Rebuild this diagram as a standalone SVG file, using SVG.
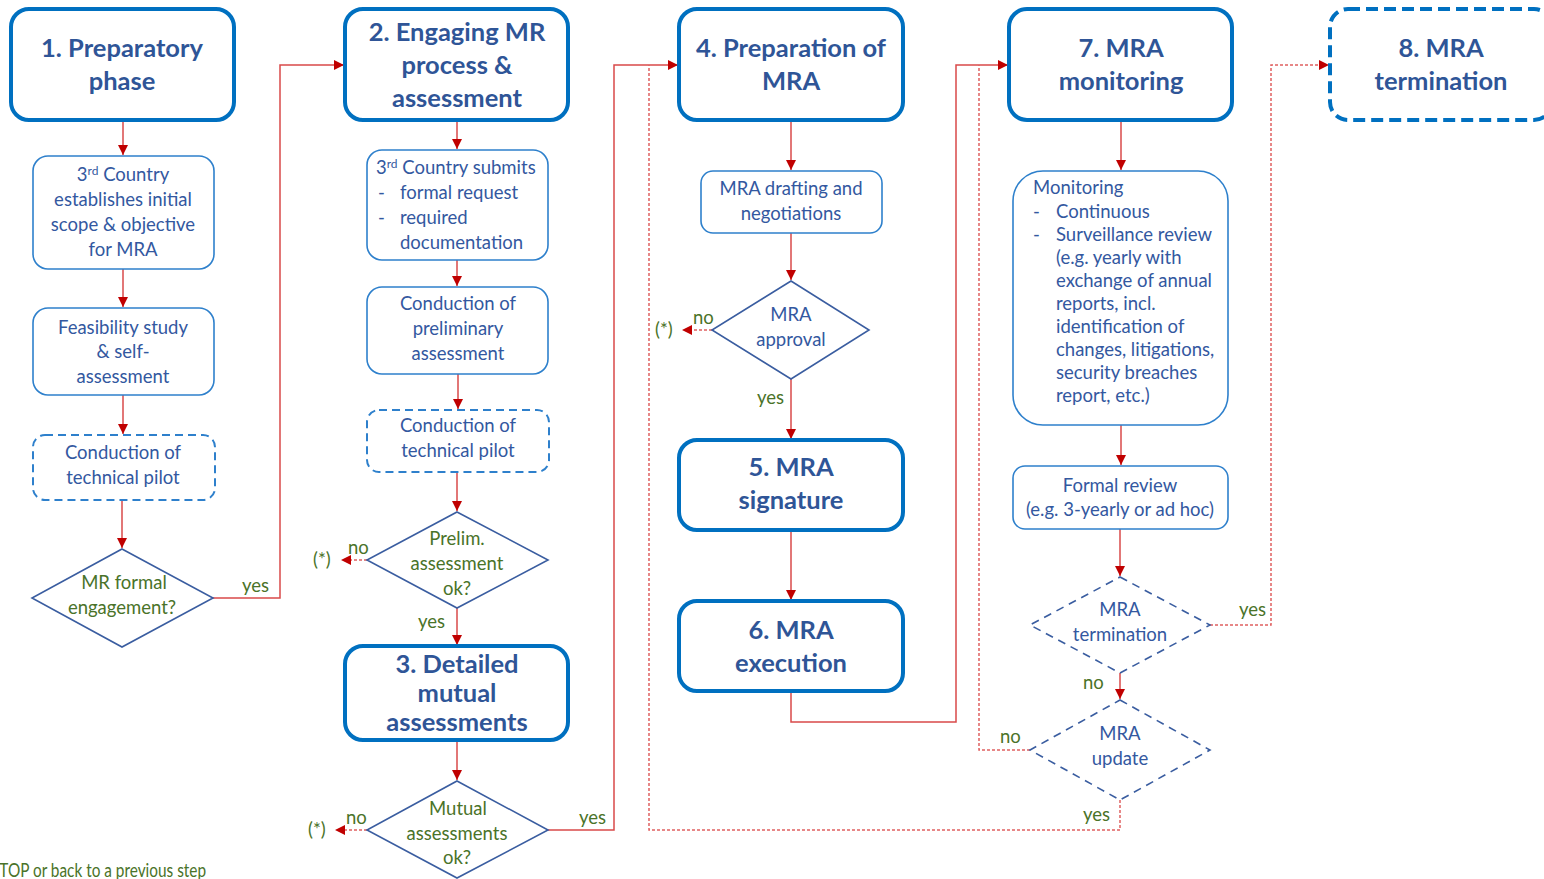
<svg xmlns="http://www.w3.org/2000/svg" width="1544" height="879" viewBox="0 0 1544 879">
<style>
.phase{fill:#fff;stroke:#0070C0;stroke-width:4}
.phase-d{fill:#fff;stroke:#0070C0;stroke-width:4;stroke-dasharray:12 6}
.box{fill:#fff;stroke:#2E80CC;stroke-width:1.6}
.box-d{fill:#fff;stroke:#2E80CC;stroke-width:2;stroke-dasharray:8 5}
.dia{fill:#fff;stroke:#3A5DA0;stroke-width:1.6}
.dia-d{fill:#fff;stroke:#3A5DA0;stroke-width:1.6;stroke-dasharray:8 6}
.t{font-family:Lato,"Liberation Sans",sans-serif;font-size:18.5px;fill:#3358A0}
.tb{font-family:Lato,"Liberation Sans",sans-serif;font-size:25.5px;font-weight:bold;fill:#2F5597}
.g{font-family:Lato,"Liberation Sans",sans-serif;font-size:18.5px;fill:#4A7329}
.c{text-anchor:middle}
.ln{fill:none;stroke:#D94A4A;stroke-width:1.5}
.dl{fill:none;stroke:#E06060;stroke-width:1.5;stroke-dasharray:3 2}
</style>
<defs>
<marker id="ah" viewBox="0 0 10 10" refX="10" refY="5" markerWidth="10" markerHeight="10" markerUnits="userSpaceOnUse" orient="auto">
<path d="M0,0 L10,5 L0,10 z" fill="#C00000"/>
</marker>
</defs>
<rect width="1544" height="879" fill="#fff"/>

<g id="connectors">
<path class="ln" d="M123,120 V155" marker-end="url(#ah)"/>
<path class="ln" d="M123,269 V307" marker-end="url(#ah)"/>
<path class="ln" d="M123,395 V434" marker-end="url(#ah)"/>
<path class="ln" d="M122,500 V548" marker-end="url(#ah)"/>
<path class="ln" d="M213,598 H280 V65 H344" marker-end="url(#ah)"/>
<path class="ln" d="M457,120 V149" marker-end="url(#ah)"/>
<path class="ln" d="M457,260 V286" marker-end="url(#ah)"/>
<path class="ln" d="M458,374 V409" marker-end="url(#ah)"/>
<path class="ln" d="M457,472 V511" marker-end="url(#ah)"/>
<path class="dl" d="M367,560 H348"/>
<path class="ln" d="M352,560 H341" marker-end="url(#ah)" style="stroke:none"/>
<path class="ln" d="M457,608 V645" marker-end="url(#ah)"/>
<path class="ln" d="M457,740 V780" marker-end="url(#ah)"/>
<path class="dl" d="M367,830 H343"/>
<path class="ln" d="M346,830 H335" marker-end="url(#ah)" style="stroke:none"/>
<path class="ln" d="M548,830 H614 V65 H678" marker-end="url(#ah)"/>
<path class="dl" d="M1120,800 V830 H649 V65"/>
<path class="ln" d="M791,120 V170" marker-end="url(#ah)"/>
<path class="ln" d="M791,233 V280" marker-end="url(#ah)"/>
<path class="dl" d="M712,330 H690"/>
<path class="ln" d="M693,330 H682" marker-end="url(#ah)" style="stroke:none"/>
<path class="ln" d="M791,379 V439" marker-end="url(#ah)"/>
<path class="ln" d="M791,530 V600" marker-end="url(#ah)"/>
<path class="ln" d="M791,691 V722 H956 V65 H1008" marker-end="url(#ah)"/>
<path class="dl" d="M1030,750 H979 V65"/>
<path class="ln" d="M1121,120 V170" marker-end="url(#ah)"/>
<path class="ln" d="M1121,425 V465" marker-end="url(#ah)"/>
<path class="ln" d="M1120,529 V576" marker-end="url(#ah)"/>
<path class="ln" d="M1120,673 V699" marker-end="url(#ah)"/>
<path class="dl" d="M1210,625 H1271 V65 H1322"/>
<path class="ln" d="M1320,65 H1329" marker-end="url(#ah)" style="stroke:none"/>
</g>

<g id="n1">
<rect class="phase" x="11" y="9" width="223" height="111" rx="18"/>
<text class="tb c" x="122" y="57">1. Preparatory</text>
<text class="tb c" x="122" y="90">phase</text>
</g>
<g id="n1a">
<rect class="box" x="33" y="156" width="181" height="113" rx="15"/>
<text class="t c" x="123" y="181">3<tspan font-size="12" dy="-6">rd</tspan><tspan dy="6"> Country</tspan></text>
<text class="t c" x="123" y="206">establishes initial</text>
<text class="t c" x="123" y="231">scope &amp; objective</text>
<text class="t c" x="123" y="256">for MRA</text>
</g>
<g id="n1b">
<rect class="box" x="33" y="308" width="181" height="87" rx="15"/>
<text class="t c" x="123" y="334">Feasibility study</text>
<text class="t c" x="123" y="358">&amp; self-</text>
<text class="t c" x="123" y="383">assessment</text>
</g>
<g id="n1c">
<rect class="box-d" x="33" y="435" width="182" height="65" rx="12"/>
<text class="t c" x="123" y="459">Conduction of</text>
<text class="t c" x="123" y="484">technical pilot</text>
</g>
<g id="d1">
<polygon class="dia" points="122,549 213,598 122,647 32,598"/>
<text class="g c" x="124" y="589">MR formal</text>
<text class="g c" x="122" y="614">engagement?</text>
</g>
<text class="g" x="242" y="592">yes</text>

<g id="n2">
<rect class="phase" x="345" y="9" width="223" height="111" rx="18"/>
<text class="tb c" x="457" y="41">2. Engaging MR</text>
<text class="tb c" x="457" y="74">process &amp;</text>
<text class="tb c" x="457" y="107">assessment</text>
</g>
<g id="n2a">
<rect class="box" x="367" y="150" width="181" height="110" rx="15"/>
<text class="t" x="376" y="174">3<tspan font-size="12" dy="-6">rd</tspan><tspan dy="6"> Country submits</tspan></text>
<text class="t" x="378" y="199">-</text><text class="t" x="400" y="199">formal request</text>
<text class="t" x="378" y="224">-</text><text class="t" x="400" y="224">required</text>
<text class="t" x="400" y="249">documentation</text>
</g>
<g id="n2b">
<rect class="box" x="367" y="287" width="181" height="87" rx="15"/>
<text class="t c" x="458" y="310">Conduction of</text>
<text class="t c" x="458" y="335">preliminary</text>
<text class="t c" x="458" y="360">assessment</text>
</g>
<g id="n2c">
<rect class="box-d" x="367" y="410" width="182" height="62" rx="12"/>
<text class="t c" x="458" y="432">Conduction of</text>
<text class="t c" x="458" y="457">technical pilot</text>
</g>
<g id="d2">
<polygon class="dia" points="457,512 548,560 457,608 367,560"/>
<text class="g c" x="457" y="545">Prelim.</text>
<text class="g c" x="457" y="570">assessment</text>
<text class="g c" x="457" y="595">ok?</text>
</g>
<text class="g" x="348" y="554">no</text>
<text class="g" x="313" y="566">(*)</text>
<text class="g" x="418" y="628">yes</text>
<g id="n3">
<rect class="phase" x="345" y="646" width="223" height="94" rx="18"/>
<text class="tb c" x="457" y="673">3. Detailed</text>
<text class="tb c" x="457" y="702">mutual</text>
<text class="tb c" x="457" y="731">assessments</text>
</g>
<g id="d3">
<polygon class="dia" points="457,781 548,830 457,878 367,830"/>
<text class="g c" x="458" y="815">Mutual</text>
<text class="g c" x="457" y="840">assessments</text>
<text class="g c" x="457" y="864">ok?</text>
</g>
<text class="g" x="346" y="824">no</text>
<text class="g" x="308" y="836">(*)</text>
<text class="g" x="579" y="824">yes</text>

<g id="n4">
<rect class="phase" x="679" y="9" width="224" height="111" rx="18"/>
<text class="tb c" x="791" y="57">4. Preparation of</text>
<text class="tb c" x="791" y="90">MRA</text>
</g>
<g id="n4a">
<rect class="box" x="701" y="171" width="181" height="62" rx="12"/>
<text class="t c" x="791" y="195">MRA drafting and</text>
<text class="t c" x="791" y="220">negotiations</text>
</g>
<g id="d4">
<polygon class="dia" points="791,281 869,330 791,379 712,330"/>
<text class="t c" x="791" y="321">MRA</text>
<text class="t c" x="791" y="346">approval</text>
</g>
<text class="g" x="693" y="324">no</text>
<text class="g" x="655" y="336">(*)</text>
<text class="g" x="757" y="404">yes</text>
<g id="n5">
<rect class="phase" x="679" y="440" width="224" height="90" rx="18"/>
<text class="tb c" x="791" y="476">5. MRA</text>
<text class="tb c" x="791" y="509">signature</text>
</g>
<g id="n6">
<rect class="phase" x="679" y="601" width="224" height="90" rx="18"/>
<text class="tb c" x="791" y="639">6. MRA</text>
<text class="tb c" x="791" y="672">execution</text>
</g>

<g id="n7">
<rect class="phase" x="1009" y="9" width="223" height="111" rx="18"/>
<text class="tb c" x="1121" y="57">7. MRA</text>
<text class="tb c" x="1121" y="90">monitoring</text>
</g>
<g id="n7a">
<rect class="box" x="1013" y="171" width="215" height="254" rx="30"/>
<text class="t" x="1033" y="194">Monitoring</text>
<text class="t" x="1033" y="218">-</text><text class="t" x="1056" y="218">Continuous</text>
<text class="t" x="1033" y="241">-</text><text class="t" x="1056" y="241">Surveillance review</text>
<text class="t" x="1056" y="264">(e.g. yearly with</text>
<text class="t" x="1056" y="287">exchange of annual</text>
<text class="t" x="1056" y="310">reports, incl.</text>
<text class="t" x="1056" y="333">identification of</text>
<text class="t" x="1056" y="356">changes, litigations,</text>
<text class="t" x="1056" y="379">security breaches</text>
<text class="t" x="1056" y="402">report, etc.)</text>
</g>
<g id="n7b">
<rect class="box" x="1013" y="466" width="215" height="63" rx="12"/>
<text class="t c" x="1120" y="492">Formal review</text>
<text class="t c" x="1120" y="516">(e.g. 3-yearly or ad hoc)</text>
</g>
<g id="d5">
<polygon class="dia-d" points="1120,577 1210,625 1120,673 1030,625"/>
<text class="t c" x="1120" y="616">MRA</text>
<text class="t c" x="1120" y="641">termination</text>
</g>
<text class="g" x="1239" y="616">yes</text>
<text class="g" x="1083" y="689">no</text>
<g id="d6">
<polygon class="dia-d" points="1120,700 1210,750 1120,800 1030,750"/>
<text class="t c" x="1120" y="740">MRA</text>
<text class="t c" x="1120" y="765">update</text>
</g>
<text class="g" x="1000" y="743">no</text>
<text class="g" x="1083" y="821">yes</text>

<g id="n8">
<rect class="phase-d" x="1330" y="9" width="222" height="111" rx="18"/>
<text class="tb c" x="1441" y="57">8. MRA</text>
<text class="tb c" x="1441" y="90">termination</text>
</g>

<text class="g" x="-9" y="877" font-size="15" textLength="215" lengthAdjust="spacingAndGlyphs">STOP or back to a previous step</text>
</svg>
